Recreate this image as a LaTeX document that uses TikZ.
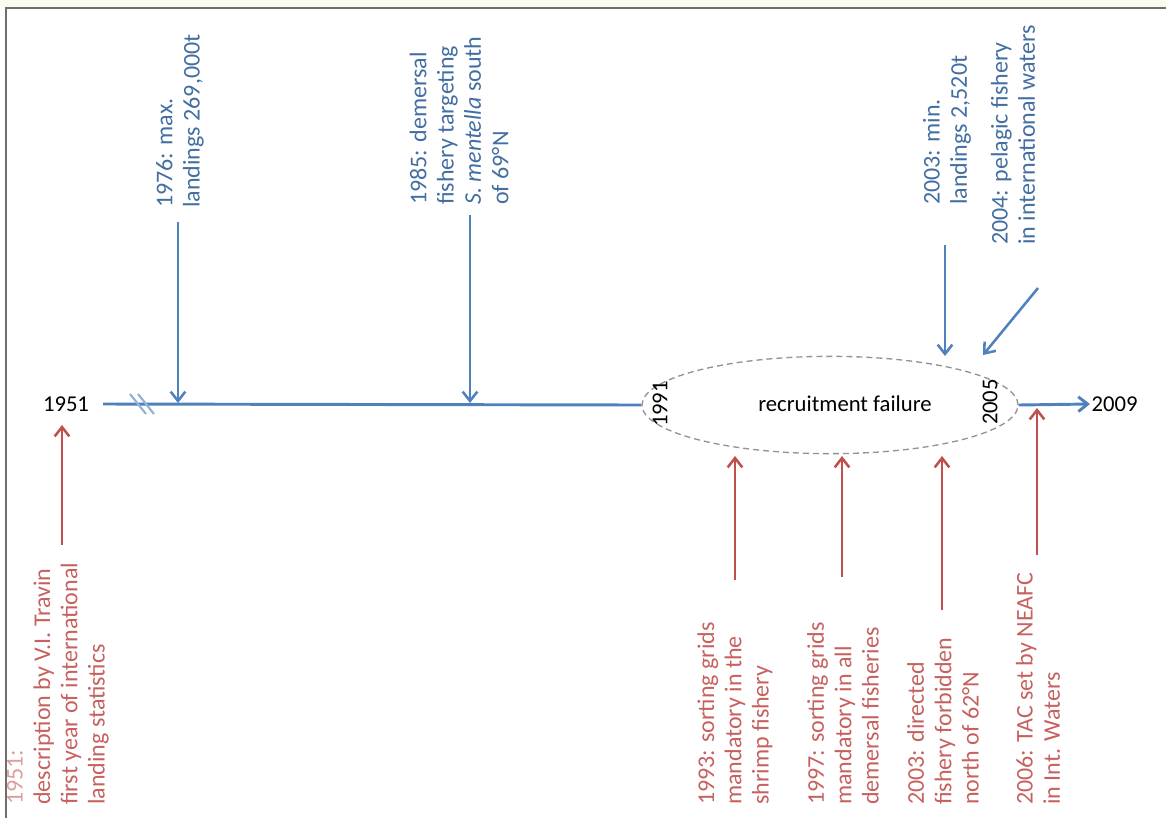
\documentclass[tikz,border=0pt]{standalone}
\usepackage{fontspec}
\setmainfont{Carlito}
\usetikzlibrary{arrows.meta,shapes.geometric}
\definecolor{tlblue}{RGB}{79,129,189}
\definecolor{tlred}{RGB}{192,80,77}
\definecolor{frame}{RGB}{110,110,110}
\definecolor{band}{RGB}{250,250,238}

\begin{document}
\begin{tikzpicture}[x=0.75pt,y=-0.75pt,font=\fontsize{17}{20}\selectfont,
  >={Straight Barb[length=7pt,width=11pt]},
  axis/.style={draw=tlblue,line width=2.2pt},
  brk/.style={draw=tlblue!60,line width=1.6pt},
  barr/.style={->,draw=tlblue,line width=1.9pt},
  rarr/.style={->,draw=tlred,line width=1.9pt},
  year/.style={inner sep=1pt},
  blbl/.style={rotate=90,anchor=west,align=left,inner sep=0pt,
    font=\fontsize{18}{20.5}\selectfont,text=tlblue!85!black},
  rlbl/.style={rotate=90,anchor=west,align=left,inner sep=0pt,
    font=\fontsize{18}{20.5}\selectfont,text=tlred!90!white},
  phase/.style={ellipse,draw=gray!85,dashed,dash pattern=on 4.5pt off 3pt,
    line width=1pt,minimum width=282pt,minimum height=73pt,inner sep=0pt}]
  \useasboundingbox (0,0) rectangle (1166,818);
  % window frame
  \fill[band] (0,0) rectangle (1166,7);
  \draw[frame,line width=1.2pt] (1166,8) -- (6,8) -- (6,818);

  % time axis
  \node[year] (y1951) at (66,404) {1951};
  \node[phase] (rf) at (830,405) {};
  \node (rftxt) at (845,404) {recruitment failure};
  \node[year,rotate=90] (y1991) at (660,404) {1991};
  \node[year,rotate=90] (y2005) at (990,402) {2005};
  \node[year,anchor=west] (y2009) at (1090,404) {2009};
  \coordinate (t0) at (103,404);
  \draw[axis] (t0) -- (rf.west);
  \draw[axis,->] (rf.east) -- (y2009.west);
  \draw[brk] (130,394) -- (146,414);
  \draw[brk] (138,394) -- (154,414);

  % landings and fishery (blue)
  \node[blbl] (l1976) at (180,208) {1976: max.\\landings 269,000t};
  \node[blbl] (l1985) at (459,205) {1985: demersal\\fishery targeting\\\textit{S. mentella} south\\of 69°N};
  \node[blbl] (l2003a) at (947,205) {2003: min.\\landings 2,520t};
  \node[blbl] (l2004) at (1013,245) {2004: pelagic fishery\\in international waters};
  \coordinate (s1976) at (178,222);  \coordinate (e1976) at (178,403);
  \coordinate (s1985) at (470,215);  \coordinate (e1985) at (470,403);
  \coordinate (s2003a) at (945,245); \coordinate (e2003a) at (945,356);
  \coordinate (s2004) at (1038,288); \coordinate (e2004) at (983,355);
  \draw[barr] (s1976) -- (e1976);
  \draw[barr] (s1985) -- (e1985);
  \draw[barr] (s2003a) -- (e2003a);
  \draw[barr] (s2004) -- (e2004);

  % management (red)
  \node[rlbl] (l1951) at (58,805) {\textcolor{tlred!55!white}{1951:}\\description by V.I. Travin\\first year of international\\landing statistics};
  \node[rlbl] (l1993) at (735,805) {1993: sorting grids\\mandatory in the\\shrimp fishery};
  \node[rlbl] (l1997) at (843,805) {1997: sorting grids\\mandatory in all\\demersal fisheries};
  \node[rlbl] (l2003b) at (943,805) {2003: directed\\fishery forbidden\\north of 62°N};
  \node[rlbl] (l2006) at (1038,805) {2006: TAC set by NEAFC\\in Int. Waters};
  \coordinate (s1951) at (62,545);   \coordinate (e1951) at (62,425);
  \coordinate (s1993) at (735,580);  \coordinate (e1993) at (735,456);
  \coordinate (s1997) at (842,577);  \coordinate (e1997) at (842,456);
  \coordinate (s2003b) at (942,610); \coordinate (e2003b) at (942,456);
  \coordinate (s2006) at (1037,555); \coordinate (e2006) at (1037,408);
  \draw[rarr] (s1951) -- (e1951);
  \draw[rarr] (s1993) -- (e1993);
  \draw[rarr] (s1997) -- (e1997);
  \draw[rarr] (s2003b) -- (e2003b);
  \draw[rarr] (s2006) -- (e2006);
\end{tikzpicture}
\end{document}
